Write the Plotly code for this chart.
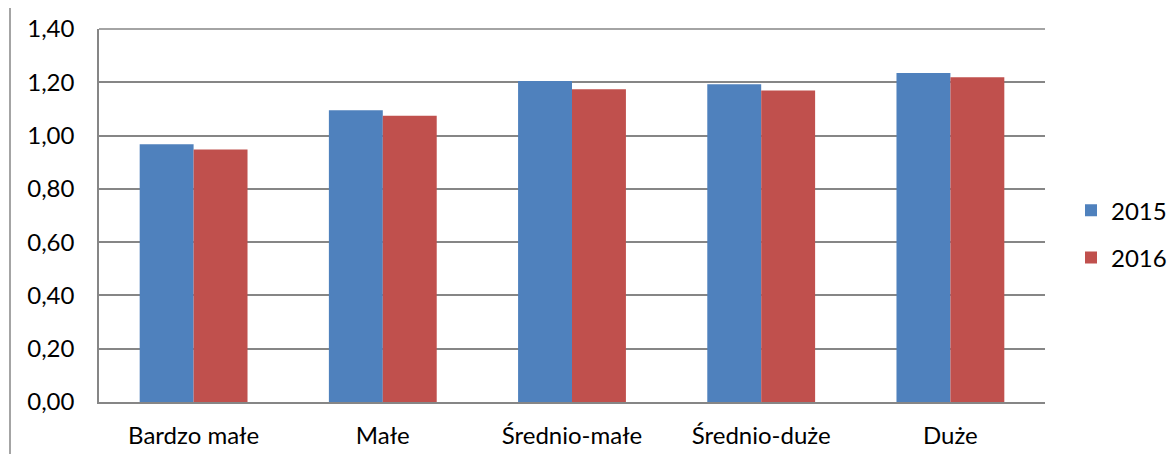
import plotly.graph_objects as go

categories = ["Bardzo małe", "Małe", "Średnio-małe", "Średnio-duże", "Duże"]
values_2015 = [0.967, 1.095, 1.205, 1.193, 1.235]
values_2016 = [0.948, 1.074, 1.174, 1.169, 1.219]
y_ticks = [0, 0.2, 0.4, 0.6, 0.8, 1.0, 1.2, 1.4]

# page has an 8px body margin; the figure is sized to fit inside it
W, H = 1167, 446
L, T = 91, 21
pw, ph = 946, 373
R, B = W - L - pw, H - T - ph

fig = go.Figure()
fig.add_trace(go.Bar(name="2015", x=categories, y=values_2015,
                     marker=dict(color="#4F81BD", line=dict(width=0)),
                     legendgroup="a"))
fig.add_trace(go.Bar(name="2016", x=categories, y=values_2016,
                     marker=dict(color="#C0504D", line=dict(width=0)),
                     legendgroup="b"))

font = dict(family="Lato, Open Sans, sans-serif", size=24, color="#000000")

fig.update_layout(
    width=W, height=H,
    margin=dict(l=L, r=R, t=T, b=B, autoexpand=False),
    paper_bgcolor="white", plot_bgcolor="white",
    separators=", ",
    barmode="group", bargap=0.43, bargroupgap=0,
    font=font,
    showlegend=True,
    legend=dict(x=(1063 - L) / pw, y=0.45, xanchor="left", yanchor="middle",
                font=font,
                tracegroupgap=13, itemwidth=30, bgcolor="rgba(0,0,0,0)"),
    xaxis=dict(showline=True, linecolor="#868686", linewidth=1.5,
               ticks="", showgrid=False, tickfont=font, automargin=False,
               ticklabelstandoff=11),
    yaxis=dict(range=[0, 1.4], tickvals=y_ticks, tickformat=".2f",
               showline=True, linecolor="#868686", linewidth=1.5,
               showgrid=True, gridcolor="#868686", gridwidth=1.5,
               zeroline=False, ticks="", tickfont=font, ticklabelstandoff=18,
               automargin=False),
    shapes=[
        dict(type="line", xref="paper", yref="paper",
             x0=(2 - L) / pw, x1=(2 - L) / pw,
             y0=(T + ph - H) / ph, y1=(T + ph) / ph,
             line=dict(color="#868686", width=1.5)),
        dict(type="line", xref="paper", yref="paper",
             x0=0, x1=1, y0=1, y1=1,
             line=dict(color="#868686", width=1.5)),
    ],
)

fig.write_html("out.html")
